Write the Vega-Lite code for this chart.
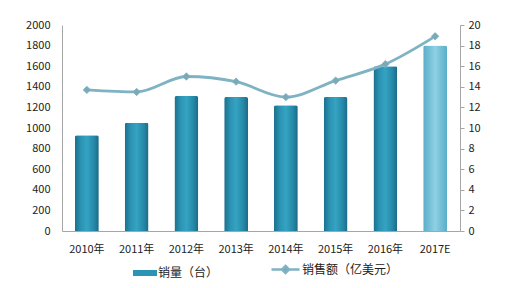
{
  "$schema": "https://vega.github.io/schema/vega-lite/v6.json",
  "width": 398,
  "height": 206,
  "autosize": {"type": "none"},
  "padding": {"left": 62, "top": 25, "right": 49, "bottom": 57},
  "background": "#ffffff",
  "config": {
    "font": "Noto Sans CJK SC",
    "view": {"stroke": null},
    "axis": {"labelFont": "Noto Sans CJK SC", "labelFontSize": 11, "labelColor": "#222222", "grid": false, "title": null, "domainColor": "#a6a6a6"},
    "legend": {"labelFont": "Noto Sans CJK SC", "labelFontSize": 12, "labelColor": "#222222"}
  },
  "data": {"values": [
    {"year": "2010年", "sales": 930, "revenue": 13.7},
    {"year": "2011年", "sales": 1050, "revenue": 13.5},
    {"year": "2012年", "sales": 1310, "revenue": 15.0},
    {"year": "2013年", "sales": 1300, "revenue": 14.5},
    {"year": "2014年", "sales": 1220, "revenue": 13.0},
    {"year": "2015年", "sales": 1300, "revenue": 14.6},
    {"year": "2016年", "sales": 1600, "revenue": 16.2},
    {"year": "2017E", "sales": 1800, "revenue": 18.9}
  ]},
  "encoding": {
    "x": {"field": "year", "type": "nominal", "sort": null, "scale": {"paddingInner": 0.52, "paddingOuter": 0.26},
      "axis": {"labelAngle": 0, "ticks": false, "labelPadding": 12, "domainColor": "#a6a6a6"}}
  },
  "layer": [
    {
      "transform": [{"filter": "datum.year !== '2017E'"}],
      "mark": {"type": "bar", "cornerRadiusTopLeft": 2, "cornerRadiusTopRight": 2,
        "fill": {"gradient": "linear", "x1": 0, "x2": 1, "y1": 0, "y2": 0, "stops": [{"offset": 0, "color": "#1b6f8c"}, {"offset": 0.25, "color": "#2b93b3"}, {"offset": 0.5, "color": "#35a3c2"}, {"offset": 0.8, "color": "#2688a8"}, {"offset": 1, "color": "#1a6a85"}]}},
      "encoding": {
        "y": {"field": "sales", "type": "quantitative", "scale": {"domain": [0, 2000]},
          "axis": {"values": [0,200,400,600,800,1000,1200,1400,1600,1800,2000], "format": "d", "ticks": false, "labelPadding": 12, "domain": true}}
      }
    },
    {
      "transform": [{"filter": "datum.year === '2017E'"}],
      "mark": {"type": "bar", "cornerRadiusTopLeft": 2, "cornerRadiusTopRight": 2,
        "fill": {"gradient": "linear", "x1": 0, "x2": 1, "y1": 0, "y2": 0, "stops": [{"offset": 0, "color": "#5aaec8"}, {"offset": 0.5, "color": "#8fd0e4"}, {"offset": 1, "color": "#5aaec8"}]}},
      "encoding": {
        "y": {"field": "sales", "type": "quantitative", "scale": {"domain": [0, 2000]}, "axis": null}
      }
    },
    {
      "transform": [{"filter": "false"}],
      "mark": {"type": "bar"},
      "encoding": {
        "fill": {"datum": "销量（台）", "type": "nominal", "scale": {"range": ["#2b93b3"]},
          "legend": {"orient": "none", "legendX": 71, "legendY": 236, "title": null,
            "symbolType": "M-1,-0.25H1V0.25H-1Z", "symbolSize": 576, "symbolStrokeWidth": 0, "symbolOpacity": 1, "labelOffset": 1}}
      }
    },
    {
      "mark": {"type": "line", "interpolate": "monotone", "strokeWidth": 2.8,
        "point": {"shape": "diamond", "size": 55, "fill": "#7aa9b8", "stroke": "#5f8f9f", "strokeWidth": 0.8}},
      "encoding": {
        "y": {"field": "revenue", "type": "quantitative", "scale": {"domain": [0, 20]},
          "axis": {"orient": "right", "values": [0,2,4,6,8,10,12,14,16,18,20], "ticks": true, "tickSize": 4, "tickColor": "#a6a6a6", "labelPadding": 4}},
        "stroke": {"datum": "销售额（亿美元）", "type": "nominal", "scale": {"range": ["#7fb2c2"]},
          "legend": {"orient": "none", "legendX": 208, "legendY": 229, "title": null,
            "symbolType": "M-1,0H-0.25M0.25,0H1M0,-0.25L0.25,0L0,0.25L-0.25,0Z", "symbolSize": 784, "symbolStrokeWidth": 2.5, "symbolFillColor": "#7aa9b8", "labelOffset": 1}}
      }
    }
  ],
  "resolve": {"scale": {"y": "independent", "fill": "independent", "stroke": "independent"}}
}
